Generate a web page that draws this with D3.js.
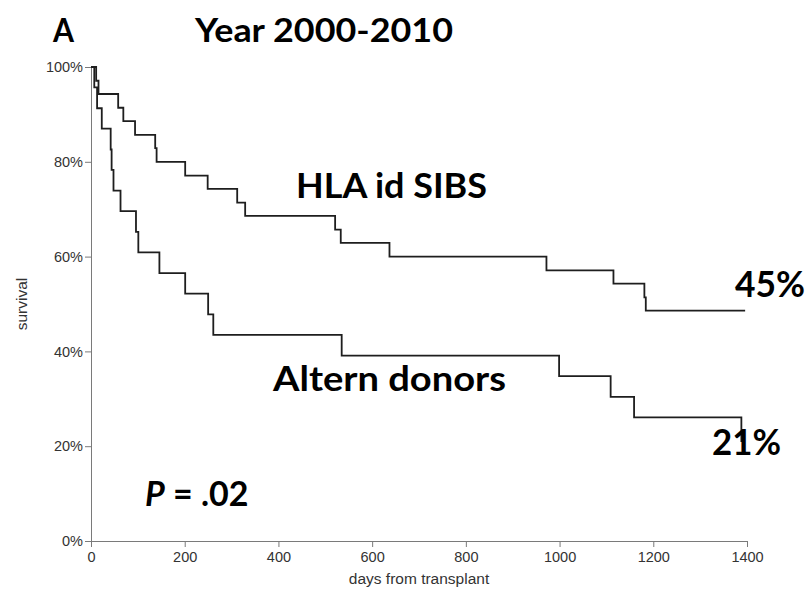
<!DOCTYPE html>
<html>
<head>
<meta charset="utf-8">
<script src="https://cdn.jsdelivr.net/npm/d3@7"></script>
<style>
  body { margin: 0; background: #fff; }
  .tick text { font-family: "Liberation Sans", Arial, sans-serif; font-size: 14.5px; fill: #333; }
  .big { font-family: Lato, "Open Sans", sans-serif; font-weight: bold; fill: #000; }
</style>
</head>
<body>
<div id="chart"></div>
<script>
// Kaplan-Meier steps: [day, survival]
const hlaSibs = [
  [0, 1], [11, 0.971], [16, 0.943], [58, 0.914], [69, 0.886], [94, 0.857],
  [137, 0.829], [140, 0.8], [201, 0.771], [249, 0.743], [312, 0.714],
  [329, 0.686], [521, 0.657], [533, 0.629], [637, 0.6], [972, 0.571],
  [1115, 0.543], [1181, 0.514], [1184, 0.486], [1396, 0.486]
];
const alternDonors = [
  [0, 1], [7, 0.957], [13, 0.913], [23, 0.87], [42, 0.826], [44, 0.783],
  [48, 0.739], [63, 0.696], [96, 0.652], [101, 0.609], [146, 0.565],
  [201, 0.522], [250, 0.478], [261, 0.435], [535, 0.391], [999, 0.348],
  [1109, 0.304], [1159, 0.261], [1388, 0.209]
];
const xTicks = [0, 200, 400, 600, 800, 1000, 1200, 1400];
const yTicks = [0, 0.2, 0.4, 0.6, 0.8, 1];

const W = 811, H = 597;
const margin = { left: 91, top: 67, right: 64, bottom: 56 };

const svg = d3.select('#chart').append('svg')
  .attr('width', W)
  .attr('height', H);

const x = d3.scaleLinear().domain([0, 1400]).range([margin.left, W - margin.right]);
const y = d3.scaleLinear().domain([0, 1]).range([H - margin.bottom, margin.top]);

// axes
svg.append('g')
  .attr('transform', `translate(${margin.left},0)`)
  .call(d3.axisLeft(y).tickValues(yTicks).tickFormat(d3.format('.0%')).tickSize(6).tickSizeOuter(0).tickPadding(2));

svg.append('g')
  .attr('transform', `translate(0,${H - margin.bottom})`)
  .call(d3.axisBottom(x).tickValues(xTicks).tickFormat(d3.format('d')).tickSize(6).tickSizeOuter(0).tickPadding(5));

svg.selectAll('.domain, .tick line').attr('stroke', '#7a7a7a');

svg.append('text')
  .attr('x', x(700))
  .attr('y', 584)
  .attr('text-anchor', 'middle')
  .style('font', '15.5px "Liberation Sans", Arial, sans-serif')
  .attr('fill', '#333')
  .text('days from transplant');

svg.append('text')
  .attr('transform', 'translate(27,304) rotate(-90)')
  .attr('text-anchor', 'middle')
  .style('font', '15.5px "Liberation Sans", Arial, sans-serif')
  .attr('fill', '#333')
  .text('survival');

// survival curves
const line = d3.line()
  .x(d => x(d[0]))
  .y(d => y(d[1]))
  .curve(d3.curveStepAfter);

[hlaSibs, alternDonors].forEach((series) => {
  svg.append('path')
    .datum(series)
    .attr('fill', 'none')
    .attr('stroke', '#1e1e1e')
    .attr('stroke-width', 1.8)
    .attr('d', line);
});

// big annotations
function bigText(str, px, py, size, len) {
  return svg.append('text')
    .classed('big', true)
    .attr('x', px)
    .attr('y', py)
    .attr('font-size', size)
    .attr('textLength', len)
    .attr('lengthAdjust', 'spacingAndGlyphs')
    .text(str);
}

bigText('A', 53, 42, 32, 21);
bigText('Year 2000-2010', 195, 42, 33, 258);
bigText('HLA id SIBS', 296, 198, 35, 191);
bigText('Altern donors', 273, 391, 35, 233);
bigText('45%', 735, 297, 36, 70);
bigText('21%', 712, 455, 36, 69);

let pLabel = svg.append('text')
  .classed('big', true)
  .attr('x', 145)
  .attr('y', 506)
  .attr('font-size', 34);
pLabel.append('tspan').attr('font-style', 'italic').text('P');
pLabel.append('tspan').text(' = .02');
</script>
</body>
</html>
